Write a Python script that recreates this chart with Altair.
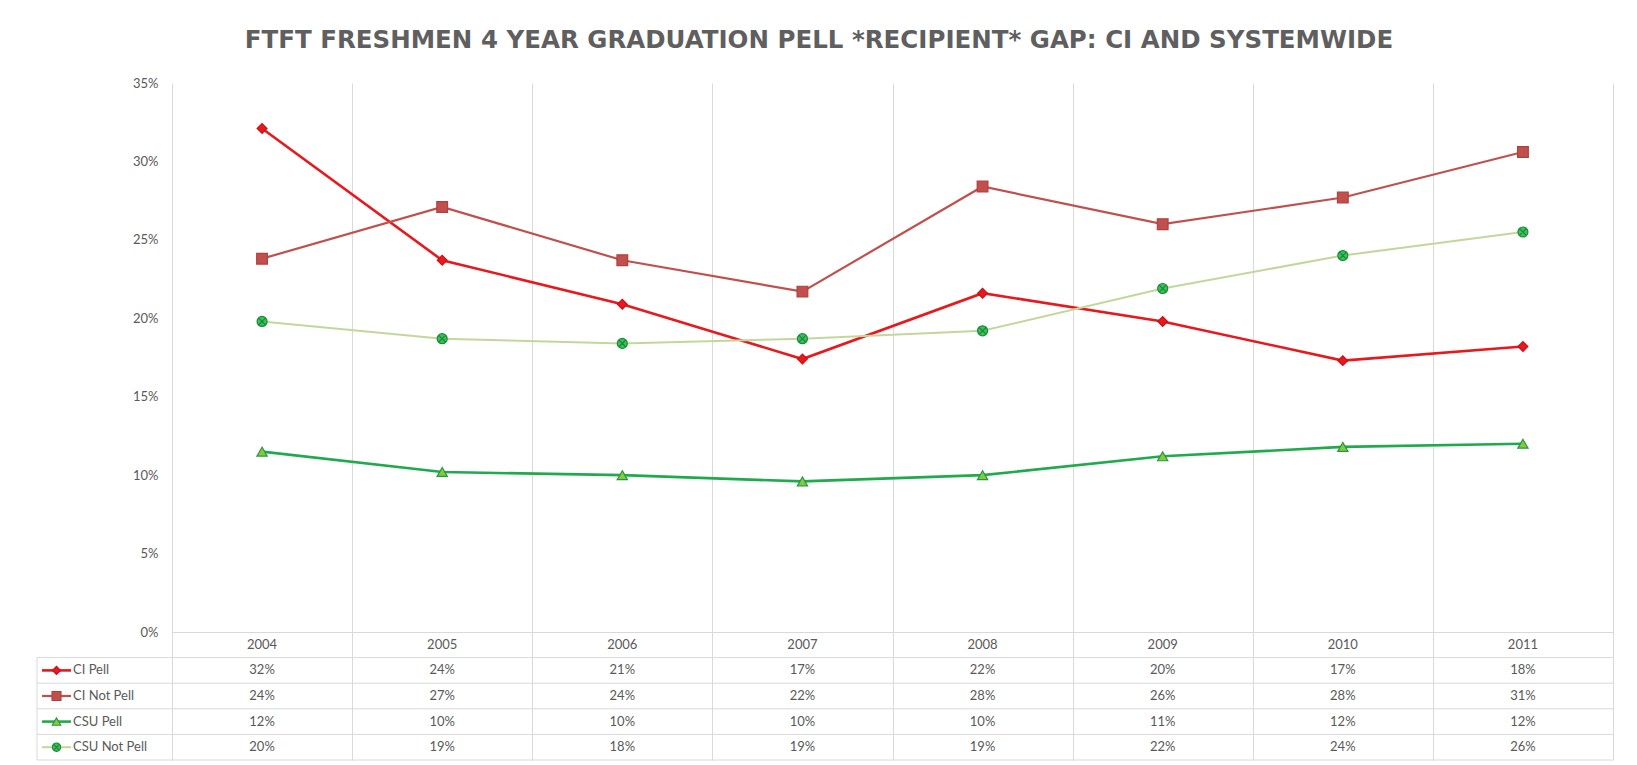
import altair as alt
import pandas as pd

# ---------------- data ----------------
years = [2004, 2005, 2006, 2007, 2008, 2009, 2010, 2011]
series_names = ["CI Pell", "CI Not Pell", "CSU Pell", "CSU Not Pell"]
ci_pell = [0.321, 0.237, 0.209, 0.174, 0.216, 0.198, 0.173, 0.182]
ci_not_pell = [0.238, 0.271, 0.237, 0.217, 0.284, 0.260, 0.277, 0.306]
csu_pell = [0.115, 0.102, 0.100, 0.096, 0.100, 0.112, 0.118, 0.120]
csu_not_pell = [0.198, 0.187, 0.184, 0.187, 0.192, 0.219, 0.240, 0.255]
y_ticks = [0.0, 0.05, 0.10, 0.15, 0.20, 0.25, 0.30, 0.35]
title_text = "FTFT FRESHMEN 4 YEAR GRADUATION PELL *RECIPIENT* GAP: CI AND SYSTEMWIDE"

values_by_series = [ci_pell, ci_not_pell, csu_pell, csu_not_pell]

# ---------------- styles ----------------
CIRCLE_X = ("M-1,0A1,1,0,1,1,1,0A1,1,0,1,1,-1,0Z "
            "M-0.62,-0.62L0.62,0.62M-0.62,0.62L0.62,-0.62")
styles = {
    "CI Pell": dict(line="#e8181c", width=2.6, shape="diamond", fill="#e8181c",
                    stroke="#c8101a", size=95),
    "CI Not Pell": dict(line="#c0504d", width=2.2, shape="square", fill="#c0504d",
                        stroke="#b0403d", size=115),
    "CSU Pell": dict(line="#1faa4c", width=2.6, shape="triangle-up", fill="#8cc63f",
                     stroke="#1f9a45", size=105),
    "CSU Not Pell": dict(line="#c4d79b", width=2.0, shape=CIRCLE_X, fill="#3cc05a",
                         stroke="#1a8a38", size=100),
}

GRID = "#d9d9d9"
TXT = "#595959"
FONT = "Lato"

W = 1441
H_TOP = 549
H_TBL = 128
LEFT_COL = -135

rows = []
for s, vals in zip(series_names, values_by_series):
    for yr, v in zip(years, vals):
        rows.append({"series": s, "year": yr, "value": v,
                     "label": f"{int(v * 100 + 0.5 + 1e-9)}%"})
df = pd.DataFrame(rows)

boundaries = [y - 0.5 for y in years] + [years[-1] + 0.5]

x_scale = alt.Scale(domain=[years[0] - 0.5, years[-1] + 0.5], nice=False, zero=False)

# ---------------- top chart (lines) ----------------
x_top = alt.X("year:Q", scale=x_scale,
              axis=alt.Axis(values=boundaries, grid=True, gridColor=GRID, gridWidth=1,
                            labels=False, ticks=False, domain=True, domainColor=GRID,
                            domainWidth=1, title=None))
y_top = alt.Y("value:Q", scale=alt.Scale(domain=[0, 0.35], nice=False, zero=True),
              axis=alt.Axis(values=y_ticks, format=".0%", grid=False, domain=False,
                            ticks=False, labelPadding=14, labelFont=FONT,
                            labelFontSize=13, labelColor=TXT, title=None))

layers = []
for s in series_names:
    st = styles[s]
    sub = df[df["series"] == s]
    layers.append(alt.Chart(sub).mark_line(color=st["line"], strokeWidth=st["width"])
                  .encode(x=x_top, y=y_top))
for s in series_names:
    st = styles[s]
    sub = df[df["series"] == s]
    layers.append(alt.Chart(sub).mark_point(shape=st["shape"], filled=True, fill=st["fill"],
                                            stroke=st["stroke"], strokeWidth=1.2,
                                            size=st["size"], opacity=1)
                  .encode(x=x_top, y=y_top))

top = alt.layer(*layers).properties(width=W, height=H_TOP)

# ---------------- bottom chart (data table) ----------------
row_order = ["hdr"] + series_names
row_scale = alt.Scale(domain=row_order, paddingInner=0, paddingOuter=0)

x_tbl = alt.X("year:Q", scale=x_scale,
              axis=alt.Axis(values=boundaries, grid=True, gridColor=GRID, gridWidth=1,
                            labels=False, ticks=False, domain=False, title=None))

hdr_df = pd.DataFrame({"year": years, "row": ["hdr"] * len(years),
                       "label": [str(y) for y in years]})
val_df = df.rename(columns={"series": "row"})
names_df = pd.DataFrame({"row": series_names})

tbl_layers = [
    alt.Chart(hdr_df).mark_text(font=FONT, fontSize=13, color=TXT)
    .encode(x=x_tbl, y=alt.Y("row:N", scale=row_scale, axis=None), text="label:N"),
    alt.Chart(val_df).mark_text(font=FONT, fontSize=13, color=TXT)
    .encode(x=x_tbl, y=alt.Y("row:N", scale=row_scale, axis=None), text="label:N"),
    # horizontal row borders (top of each series row)
    alt.Chart(names_df).mark_rule(color=GRID, strokeWidth=1)
    .encode(x=alt.value(LEFT_COL), x2=alt.value(W),
            y=alt.Y("row:N", scale=row_scale, axis=None, bandPosition=0)),
    # bottom border
    alt.Chart(alt.Data(values=[{"a": 1}])).mark_rule(color=GRID, strokeWidth=1)
    .encode(x=alt.value(LEFT_COL), x2=alt.value(W), y=alt.value(H_TBL)),
    # left border of legend column
    alt.Chart(pd.DataFrame({"row": [series_names[0]]})).mark_rule(color=GRID, strokeWidth=1)
    .encode(x=alt.value(LEFT_COL),
            y=alt.Y("row:N", scale=row_scale, axis=None, bandPosition=0),
            y2=alt.value(H_TBL)),
    # legend names
    alt.Chart(names_df).mark_text(font=FONT, fontSize=13, color=TXT, align="left")
    .encode(x=alt.value(-99), y=alt.Y("row:N", scale=row_scale, axis=None), text="row:N"),
]
for s in series_names:
    st = styles[s]
    one = pd.DataFrame({"row": [s]})
    tbl_layers.append(
        alt.Chart(one).mark_rule(color=st["line"], strokeWidth=st["width"])
        .encode(x=alt.value(-130), x2=alt.value(-101),
                y=alt.Y("row:N", scale=row_scale, axis=None)))
    tbl_layers.append(
        alt.Chart(one).mark_point(shape=st["shape"], filled=True, fill=st["fill"],
                                  stroke=st["stroke"], strokeWidth=1.1,
                                  size=st["size"] * 0.7, opacity=1)
        .encode(x=alt.value(-115.5), y=alt.Y("row:N", scale=row_scale, axis=None)))

# grid axis holder layer
tbl_layers.insert(0, alt.Chart(hdr_df).mark_text(opacity=0, text="")
                  .encode(x=x_tbl, y=alt.Y("row:N", scale=row_scale, axis=None)))

table = alt.layer(*tbl_layers).properties(width=W, height=H_TBL)

chart = alt.vconcat(top, table, spacing=0, bounds="flush").properties(
    title=alt.Title(title_text, anchor="middle", font="DejaVu Sans", fontSize=24.5,
                    fontWeight="bold", color="#5f5f5f", offset=24, dx=-6),
    padding={"left": 28, "top": 19, "right": 10, "bottom": 0},
).configure(background="white", view=alt.ViewConfig(stroke=None))

chart.save("out.html", embed_options={"renderer": "svg", "actions": False})
